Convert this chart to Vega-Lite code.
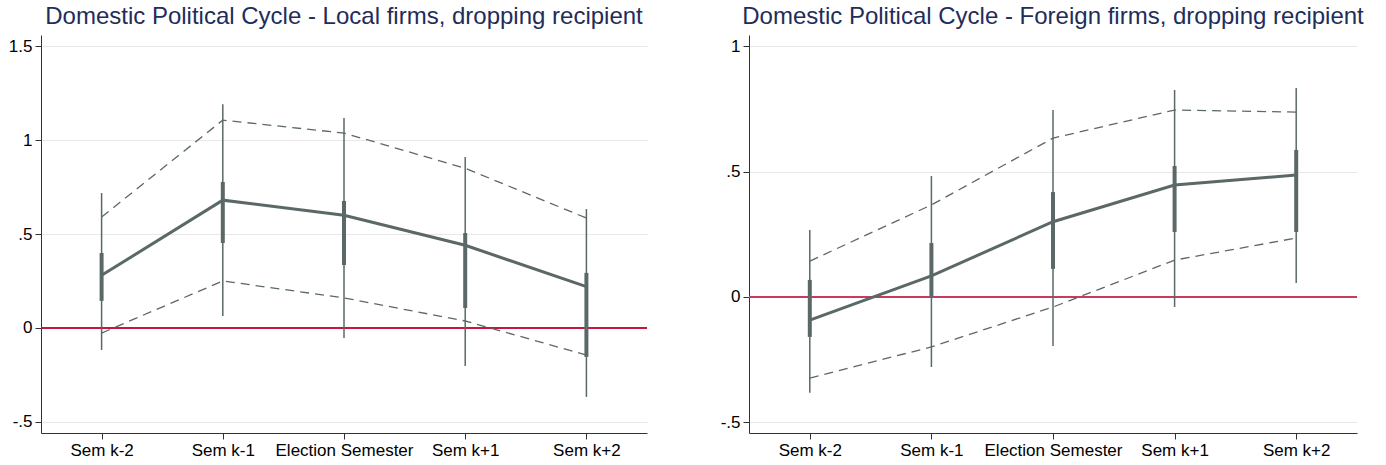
{
  "$schema": "https://vega.github.io/schema/vega-lite/v6.json",
  "background": "white",
  "padding": {"left": 8, "top": 5, "right": 5, "bottom": 5},
  "bounds": "flush",
  "spacing": 102,
  "config": {
    "view": {"stroke": null},
    "font": "Liberation Sans",
    "axis": {"labelFont": "Liberation Sans", "labelFontSize": 17, "labelColor": "#000000", "domainColor": "#333333", "tickColor": "#333333", "tickSize": 6, "titleFontSize": 0},
    "title": {"font": "Liberation Sans", "fontSize": 24, "fontWeight": "normal", "color": "#1f2d5b", "anchor": "middle", "offset": 6}
  },
  "datasets": {
    "cycle": [
      {"panel": "Local", "sem": "Sem k-2", "est": 0.28, "ub": 0.59, "lb": -0.027, "hi2": 0.718, "lo2": -0.117, "hi1": 0.399, "lo1": 0.144},
      {"panel": "Local", "sem": "Sem k-1", "est": 0.68, "ub": 1.106, "lb": 0.25, "hi2": 1.191, "lo2": 0.064, "hi1": 0.777, "lo1": 0.452},
      {"panel": "Local", "sem": "Election Semester", "est": 0.60, "ub": 1.037, "lb": 0.16, "hi2": 1.117, "lo2": -0.053, "hi1": 0.676, "lo1": 0.335},
      {"panel": "Local", "sem": "Sem k+1", "est": 0.44, "ub": 0.85, "lb": 0.037, "hi2": 0.910, "lo2": -0.202, "hi1": 0.505, "lo1": 0.106},
      {"panel": "Local", "sem": "Sem k+2", "est": 0.22, "ub": 0.585, "lb": -0.144, "hi2": 0.633, "lo2": -0.367, "hi1": 0.293, "lo1": -0.154},
      {"panel": "Foreign", "sem": "Sem k-2", "est": -0.092, "ub": 0.143, "lb": -0.323, "hi2": 0.267, "lo2": -0.382, "hi1": 0.068, "lo1": -0.159},
      {"panel": "Foreign", "sem": "Sem k-1", "est": 0.084, "ub": 0.367, "lb": -0.199, "hi2": 0.482, "lo2": -0.279, "hi1": 0.215, "lo1": 0.0},
      {"panel": "Foreign", "sem": "Election Semester", "est": 0.30, "ub": 0.633, "lb": -0.04, "hi2": 0.745, "lo2": -0.195, "hi1": 0.418, "lo1": 0.112},
      {"panel": "Foreign", "sem": "Sem k+1", "est": 0.446, "ub": 0.745, "lb": 0.147, "hi2": 0.825, "lo2": -0.04, "hi1": 0.522, "lo1": 0.259},
      {"panel": "Foreign", "sem": "Sem k+2", "est": 0.486, "ub": 0.737, "lb": 0.235, "hi2": 0.833, "lo2": 0.056, "hi1": 0.586, "lo1": 0.259}
    ]
  },
  "hconcat": [
    {
      "title": "Domestic Political Cycle - Local firms, dropping recipient",
      "width": 606,
      "height": 398,
      "data": {"name": "cycle"},
      "transform": [{"filter": "datum.panel == 'Local'"}],
      "encoding": {
        "x": {"field": "sem", "type": "ordinal", "sort": ["Sem k-2", "Sem k-1", "Election Semester", "Sem k+1", "Sem k+2"], "scale": {"type": "point", "padding": 0.5}, "axis": {"title": null, "labelAngle": 0, "grid": false, "labelPadding": 3}}
      },
      "layer": [
        {"mark": {"type": "rule", "color": "#c8143f", "strokeWidth": 1.5}, "encoding": {"x": null, "y": {"datum": 0, "type": "quantitative", "scale": {"domain": [-0.559, 1.559], "nice": false, "zero": false}, "axis": {"title": null, "values": [-0.5, 0, 0.5, 1, 1.5], "labelExpr": "replace(toString(datum.value), '0.', '.')", "grid": true, "gridColor": "#e8e8e8", "labelPadding": 3}}}},
        {"mark": {"type": "rule", "color": "#5b6868", "strokeWidth": 1.5}, "encoding": {"y": {"field": "lo2", "type": "quantitative"}, "y2": {"field": "hi2"}}},
        {"mark": {"type": "rule", "color": "#5b6868", "strokeWidth": 4}, "encoding": {"y": {"field": "lo1", "type": "quantitative"}, "y2": {"field": "hi1"}}},
        {"mark": {"type": "line", "color": "#5b6868", "strokeWidth": 1.3, "strokeDash": [9, 6]}, "encoding": {"y": {"field": "ub", "type": "quantitative"}}},
        {"mark": {"type": "line", "color": "#5b6868", "strokeWidth": 1.3, "strokeDash": [9, 6]}, "encoding": {"y": {"field": "lb", "type": "quantitative"}}},
        {"mark": {"type": "line", "color": "#5b6868", "strokeWidth": 3}, "encoding": {"y": {"field": "est", "type": "quantitative"}}}
      ]
    },
    {
      "title": "Domestic Political Cycle - Foreign firms, dropping recipient",
      "width": 608,
      "height": 398,
      "data": {"name": "cycle"},
      "transform": [{"filter": "datum.panel == 'Foreign'"}],
      "encoding": {
        "x": {"field": "sem", "type": "ordinal", "sort": ["Sem k-2", "Sem k-1", "Election Semester", "Sem k+1", "Sem k+2"], "scale": {"type": "point", "padding": 0.5}, "axis": {"title": null, "labelAngle": 0, "grid": false, "labelPadding": 3}}
      },
      "layer": [
        {"mark": {"type": "rule", "color": "#c93b62", "strokeWidth": 1.5}, "encoding": {"x": null, "y": {"datum": 0, "type": "quantitative", "scale": {"domain": [-0.542, 1.044], "nice": false, "zero": false}, "axis": {"title": null, "values": [-0.5, 0, 0.5, 1], "labelExpr": "replace(toString(datum.value), '0.', '.')", "grid": true, "gridColor": "#e8e8e8", "labelPadding": 3}}}},
        {"mark": {"type": "rule", "color": "#5b6868", "strokeWidth": 1.5}, "encoding": {"y": {"field": "lo2", "type": "quantitative"}, "y2": {"field": "hi2"}}},
        {"mark": {"type": "rule", "color": "#5b6868", "strokeWidth": 4}, "encoding": {"y": {"field": "lo1", "type": "quantitative"}, "y2": {"field": "hi1"}}},
        {"mark": {"type": "line", "color": "#5b6868", "strokeWidth": 1.3, "strokeDash": [9, 6]}, "encoding": {"y": {"field": "ub", "type": "quantitative"}}},
        {"mark": {"type": "line", "color": "#5b6868", "strokeWidth": 1.3, "strokeDash": [9, 6]}, "encoding": {"y": {"field": "lb", "type": "quantitative"}}},
        {"mark": {"type": "line", "color": "#5b6868", "strokeWidth": 3}, "encoding": {"y": {"field": "est", "type": "quantitative"}}}
      ]
    }
  ]
}
